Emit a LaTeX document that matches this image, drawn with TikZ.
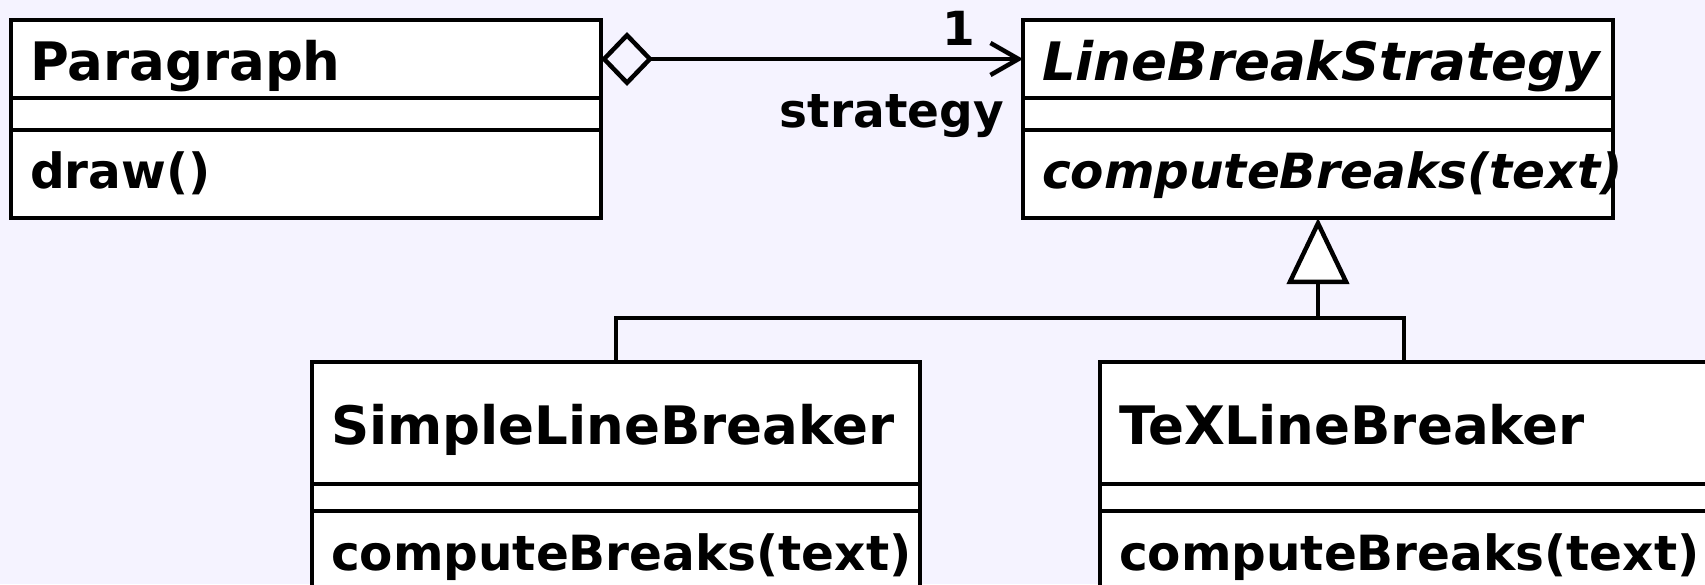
\documentclass[tikz,border=0pt]{standalone}
\usepackage{fontspec}
\setmainfont{DejaVu Sans}
\usetikzlibrary{arrows.meta,positioning,calc}
\definecolor{umlInk}{HTML}{000000}
\definecolor{umlPaper}{HTML}{F5F3FF}
\newcommand\namefont{\fontsize{53}{64}\selectfont\bfseries}
\newcommand\opfont{\fontsize{48.5}{58}\selectfont\bfseries}
\tikzset{
    every picture/.style={font=\fontsize{47}{56}\selectfont\bfseries},
    umlpart/.style={draw=umlInk, line width=4.5pt, fill=white, outer sep=0pt, inner xsep=19pt, inner ysep=0pt, align=left, execute at begin node={\hyphenpenalty=10000}},
    upperbox/.style={umlpart, text width=552pt},
    lowerbox/.style={umlpart, text width=570pt},
    namepart/.style={font=\namefont, text height=60pt, text depth=18pt},
    attrpart/.style={text height=32pt, text depth=0pt},
    oppart/.style={font=\opfont, text height=58pt, text depth=30pt},
    lownamepart/.style={font=\namefont, text height=82pt, text depth=40pt},
    lowattrpart/.style={text height=27pt, text depth=0pt},
    lowoppart/.style={font=\opfont, text height=59pt, text depth=31pt},
    lbl/.style={inner sep=0pt, anchor=base east},
    aggr/.style={line width=4.5pt, draw=umlInk, {Diamond[open, length=52pt, width=54pt]}-{Straight Barb[length=28pt, width=32pt]}},
    genline/.style={line width=4.5pt, draw=umlInk},
    inherit/.style={genline, -{Triangle[fill=white, length=66pt, width=62pt]}}
}

\begin{document}
\begin{tikzpicture}[x=1pt, y=-1pt]
\useasboundingbox (0,0) rectangle (1705,584);
\fill[umlPaper] (0,0) rectangle (1705,584);
\clip (0,0) rectangle (1705,584);

% context class
\node[upperbox, namepart, anchor=north west] (paraName) at (11,20) {Paragraph};
\node[upperbox, attrpart, below=0pt of paraName] (paraAttr) {};
\node[upperbox, oppart, below=0pt of paraAttr] (paraOps) {draw()};

% abstract strategy
\node[upperbox, namepart, anchor=north west] (stratName) at (1023,20) {\itshape LineBreakStrategy};
\node[upperbox, attrpart, below=0pt of stratName] (stratAttr) {};
\node[upperbox, oppart, below=0pt of stratAttr] (stratOps) {\itshape computeBreaks(text)};

% concrete strategies
\node[lowerbox, lownamepart, anchor=north west] (simpleName) at (312,362) {SimpleLineBreaker};
\node[lowerbox, lowattrpart, below=0pt of simpleName] (simpleAttr) {};
\node[lowerbox, lowoppart, below=0pt of simpleAttr] (simpleOps) {computeBreaks(text)};

\node[lowerbox, lownamepart, anchor=north west] (texName) at (1100,362) {TeXLineBreaker};
\node[lowerbox, lowattrpart, below=0pt of texName] (texAttr) {};
\node[lowerbox, lowoppart, below=0pt of texAttr] (texOps) {computeBreaks(text)};

% aggregation
\draw[aggr] (paraName.east) -- (stratName.west);
\node[lbl] (mult) at ($(stratName.west)+(-48,-14)$) {1};
\node[lbl] (role) at ($(stratName.west)+(-19,68)$) {strategy};

% generalisation
\coordinate (fork) at ($(stratOps.south)+(0,100)$);
\draw[genline] (simpleName.north) |- (fork);
\draw[genline] (texName.north) |- (fork);
\draw[inherit] (fork) -- (stratOps.south);
\end{tikzpicture}
\end{document}
